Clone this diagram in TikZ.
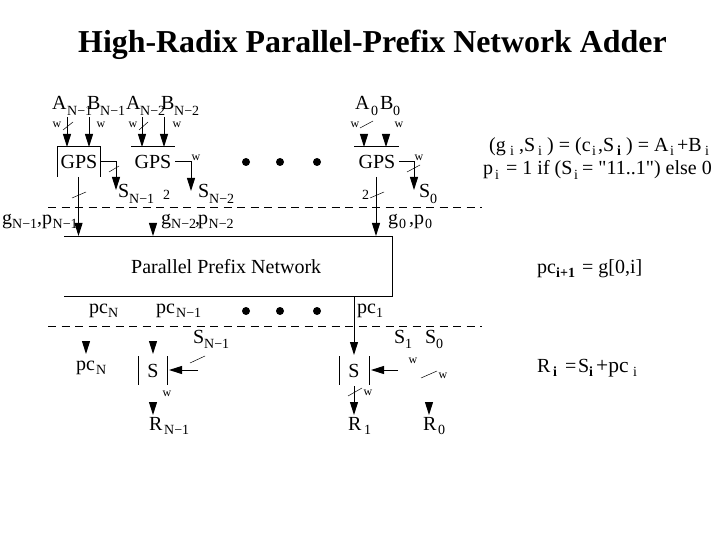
\documentclass[tikz,border=0pt]{standalone}
\usepackage{fontspec}
\setmainfont[Ligatures=TeXOff]{Liberation Serif}
\usetikzlibrary{arrows.meta}
\tikzset{
  lbl/.style={anchor=base west,inner sep=0pt,font=\fontsize{20}{20}\selectfont},
  subl/.style={anchor=base west,inner sep=0pt,font=\fontsize{14}{14}\selectfont},
  subb/.style={anchor=base west,inner sep=0pt,font=\fontsize{14}{14}\selectfont\bfseries},
  wlab/.style={anchor=center,inner sep=0pt,font=\fontsize{12}{12}\selectfont},
  boxl/.style={anchor=center,inner sep=0pt,font=\fontsize{20}{20}\selectfont},
  wire/.style={line width=1pt},
  arr/.style={line width=1pt,-{Triangle[length=13pt,width=8pt]}},
  tick/.style={line width=0.5pt},
  dash line/.style={line width=0.8pt,dash pattern=on 8pt off 5.5pt},
  bigdot/.style={circle,fill=black,inner sep=0pt,minimum size=8pt}
}
\newcommand{\wtick}[6]{%
  \coordinate (#1a) at (#2,#3);\coordinate (#1b) at (#4,#5);
  \draw[tick] (#1a) -- (#1b);}
\begin{document}
\begin{tikzpicture}[x=1pt,y=-1pt]
\useasboundingbox (0,0) rectangle (720,540);
% title
\node[anchor=base west,inner sep=0pt,font=\fontsize{31.9}{32}\selectfont\bfseries] (title) at (78,53) {High-Radix Parallel-Prefix Network Adder};
% dashed separators
\coordinate (d1a) at (48,207);\coordinate (d1b) at (482,207);
\coordinate (d2a) at (48,326);\coordinate (d2b) at (482,326);
\draw[dash line] (d1a) -- (d1b);
\draw[dash line] (d2a) -- (d2b);
% top inputs
\node[lbl] (an1) at (52,110) {A};\node[subl] (an1s) at (67,116) {N−1};
\node[lbl] (bn1) at (87,110) {B};\node[subl] (bn1s) at (100,116) {N−1};
\node[lbl] (an2) at (126,110) {A};\node[subl] (an2s) at (140,116) {N−2};
\node[lbl] (bn2) at (161,110) {B};\node[subl] (bn2s) at (174,116) {N−2};
\node[lbl] (a0) at (355,110) {A};\node[subl] (a0s) at (371,116) {0};
\node[lbl] (b0) at (380,110) {B};\node[subl] (b0s) at (393,116) {0};
% GPS blocks
\node[boxl] (gps1) at (79,162) {GPS};
\node[boxl] (gps2) at (153,162) {GPS};
\node[boxl] (gps3) at (377,162) {GPS};
\coordinate (g1bl) at (57,177);\coordinate (g1tl) at (57,147);\coordinate (g1tr) at (100,147);\coordinate (g1br) at (100,177);
\draw[wire] (g1bl) -- (g1tl) -- (g1tr) -- (g1br);
\coordinate (g2l) at (131,147);\coordinate (g2r) at (175,147);
\draw[wire] (g2l) -- (g2r);
\coordinate (g3l) at (354,147);\coordinate (g3r) at (399,147);
\draw[wire] (g3l) -- (g3r);
% input arrows
\coordinate (i1a) at (67,117);\coordinate (i1b) at (67,147);\draw[arr] (i1a) -- (i1b);
\coordinate (i2a) at (89,117);\coordinate (i2b) at (89,147);\draw[arr] (i2a) -- (i2b);
\coordinate (i3a) at (142,117);\coordinate (i3b) at (142,147);\draw[arr] (i3a) -- (i3b);
\coordinate (i4a) at (164,117);\coordinate (i4b) at (164,147);\draw[arr] (i4a) -- (i4b);
\coordinate (i5a) at (364,134);\coordinate (i5b) at (364,147);\draw[arr] (i5a) -- (i5b);
\coordinate (i6a) at (386,134);\coordinate (i6b) at (386,147);\draw[arr] (i6a) -- (i6b);
\wtick{t1}{63}{130}{73}{122}\wtick{t2}{82}{128}{96}{119}
\wtick{t3}{139}{130}{148}{122}\wtick{t4}{157}{128}{172}{119}
\wtick{t5}{360}{128}{373}{121}\wtick{t6}{380}{128}{394}{120}
\node[wlab] (w1) at (57,125) {w};\node[wlab] (w2) at (101,125) {w};
\node[wlab] (w3) at (133,125) {w};\node[wlab] (w4) at (177,125) {w};
\node[wlab] (w5) at (355,125) {w};\node[wlab] (w6) at (399,125) {w};
% sum outputs
\coordinate (o1a) at (100,162);\coordinate (o1c) at (116,162);\coordinate (o1b) at (116,190);
\draw[arr] (o1a) -- (o1c) -- (o1b);
\coordinate (o2a) at (175,162);\coordinate (o2c) at (191,162);\coordinate (o2b) at (191,191);
\draw[arr] (o2a) -- (o2c) -- (o2b);
\coordinate (o3a) at (399,162);\coordinate (o3c) at (414,162);\coordinate (o3b) at (414,190);
\draw[arr] (o3a) -- (o3c) -- (o3b);
\wtick{t7}{109}{172}{119}{166}\wtick{t8}{184}{172}{196}{165}\wtick{t9}{407}{172}{420}{165}
\node[wlab] (w7) at (121,158) {w};\node[wlab] (w8) at (196,158) {w};\node[wlab] (w9) at (419,158) {w};
\node[lbl] (sn1) at (118,197) {S};\node[subl] (sn1s) at (129,204) {N−1};
\node[lbl] (sn2) at (198,197) {S};\node[subl] (sn2s) at (209,204) {N−2};
\node[lbl] (s0) at (419,197) {S};\node[subl] (s0s) at (430,204) {0};
% carry lines
\coordinate (c1a) at (78.5,177);\coordinate (c1b) at (78.5,236);\draw[arr] (c1a) -- (c1b);
\coordinate (c2a) at (153,223);\coordinate (c2b) at (153,236);\draw[arr] (c2a) -- (c2b);
\coordinate (c3a) at (376,177);\coordinate (c3b) at (376,236);\draw[arr] (c3a) -- (c3b);
\wtick{t10}{72}{198}{86}{192}\wtick{t11}{148}{198}{162}{191}\wtick{t12}{370}{198}{384}{192}
\node[subl] (two1) at (64,200) {2};\node[subl] (two2) at (163,200) {2};\node[subl] (two3) at (362,200) {2};
\node[lbl] (gn1) at (2,225) {g};\node[subl] (gn1s) at (12,229) {N−1};\node[lbl] (cm1) at (37,225) {,};
\node[lbl] (pn1) at (42,225) {p};\node[subl] (pn1s) at (52.5,229) {N−1};
\node[lbl] (gn2) at (161,225) {g};\node[subl] (gn2s) at (171,229) {N−2};\node[lbl] (cm2) at (195,225) {,};
\node[lbl] (pn2) at (198,225) {p};\node[subl] (pn2s) at (208.5,229) {N−2};
\node[lbl] (g0) at (388,225) {g};\node[subl] (g0s) at (399,229) {0};\node[lbl] (cm3) at (409,225) {,};
\node[lbl] (p0) at (414,225) {p};\node[subl] (p0s) at (425,229) {0};
% network box
\coordinate (ntl) at (64,236);\coordinate (ntr) at (392,236);\coordinate (nbr) at (392,296);\coordinate (nbl) at (64,296);
\draw[wire] (ntl) -- (ntr) -- (nbr) -- (nbl);
\node[anchor=base west,inner sep=0pt,font=\fontsize{20}{20}\selectfont] (net) at (131,273) {Parallel Prefix Network};
% pc labels and dots
\node[lbl] (pcn) at (89,313) {pc};\node[subl] (pcns) at (108,317) {N};
\node[lbl] (pcn1) at (156,313) {pc};\node[subl] (pcn1s) at (176,317) {N−1};
\node[lbl] (pc1) at (357,313) {pc};\node[subl] (pc1s) at (376,317) {1};
\node[bigdot] (u1) at (246,162) {};\node[bigdot] (u2) at (280,162) {};\node[bigdot] (u3) at (317,162) {};
\node[bigdot] (l1) at (246,311) {};\node[bigdot] (l2) at (280,311) {};\node[bigdot] (l3) at (317,311) {};
% lower part
\coordinate (p1a) at (86,341);\coordinate (p1b) at (86,354);\draw[arr] (p1a) -- (p1b);
\coordinate (p2a) at (153,341);\coordinate (p2b) at (153,354);\draw[arr] (p2a) -- (p2b);
\coordinate (p3a) at (354,296);\coordinate (p3b) at (354,355);\draw[arr] (p3a) -- (p3b);
\node[lbl] (pcl) at (76,370) {pc};\node[subl] (pcls) at (96,374) {N};
\node[lbl] (sl1) at (193,343) {S};\node[subl] (sl1s) at (204,348) {N−1};
\node[lbl] (sl2) at (394,343) {S};\node[subl] (sl2s) at (405,348) {1};
\node[lbl] (sl3) at (425,343) {S};\node[subl] (sl3s) at (436,348) {0};
\node[boxl] (s1box) at (153,371) {S};
\node[boxl] (s2box) at (354,371) {S};
\coordinate (a1) at (138,356);\coordinate (a2) at (138,385);\draw[wire] (a1) -- (a2);
\coordinate (a3) at (167,356);\coordinate (a4) at (167,385);\draw[wire] (a3) -- (a4);
\coordinate (a5) at (339,356);\coordinate (a6) at (339,385);\draw[wire] (a5) -- (a6);
\coordinate (a7) at (369,356);\coordinate (a8) at (369,385);\draw[wire] (a7) -- (a8);
\coordinate (e1a) at (198,370);\coordinate (e1b) at (169,370);\draw[arr] (e1a) -- (e1b);
\coordinate (e2a) at (398,370);\coordinate (e2b) at (371,370);\draw[arr] (e2a) -- (e2b);
\coordinate (f1a) at (153,402);\coordinate (f1b) at (153,415);\draw[arr] (f1a) -- (f1b);
\coordinate (f2a) at (354,386);\coordinate (f2b) at (354,415);\draw[arr] (f2a) -- (f2b);
\coordinate (f3a) at (429,402);\coordinate (f3b) at (429,415);\draw[arr] (f3a) -- (f3b);
\wtick{t13}{190}{363}{205}{356}\wtick{t14}{391}{363}{406}{356}\wtick{t15}{421}{378}{437}{371}
\wtick{t16}{146}{397}{161}{389}\wtick{t17}{348}{396}{362}{388}
\node[wlab] (w10) at (211,361) {w};\node[wlab] (w11) at (413,361) {w};\node[wlab] (w12) at (443,376) {w};
\node[wlab] (w13) at (167,394) {w};\node[wlab] (w14) at (368,393) {w};
\node[lbl] (rn) at (149,430) {R};\node[subl] (rns) at (164,434) {N−1};
\node[lbl] (r1) at (348,430) {R};\node[subl] (r1s) at (364,434) {1};
\node[lbl] (r0) at (423,430) {R};\node[subl] (r0s) at (438,434) {0};
% equations
\node[lbl] (e1) at (489,152) {(g};\node[subl] (e1s) at (510,156) {i};
\node[lbl] (e2) at (519,152) {,S};\node[subl] (e2s) at (538,156) {i};
\node[lbl] (e3) at (547,152) {) = (c};\node[subl] (e3s) at (592,156) {i};
\node[lbl] (e4) at (598,152) {,S};\node[subb] (e4s) at (617,156) {i};
\node[lbl] (e5) at (626,152) {) = A};\node[subl] (e5s) at (670,156) {i};
\node[lbl] (e6) at (677,152) {+B};\node[subl] (e6s) at (705,156) {i};
\node[lbl] (q1) at (483,175) {p};\node[subl] (q1s) at (495,180) {i};
\node[lbl] (q2) at (506,175) {= 1 if (S};\node[subl] (q2s) at (574,180) {i};
\node[lbl] (q3) at (582,175) {= "11..1") else 0};
\node[lbl] (pe) at (537,273) {pc};\node[subb] (pes) at (556,277) {i+1};
\node[lbl] (pf) at (582,273) {= g[0,i]};
\node[lbl] (re) at (537,372) {R};\node[subb] (res) at (553,376) {i};
\node[lbl] (rf) at (565,372) {=};
\node[lbl] (rg) at (578,372) {S};\node[subb] (rgs) at (589,376) {i};
\node[lbl,font=\fontsize{21.5}{22}\selectfont] (rh) at (596,372) {+pc};\node[subl] (rhs) at (633,376) {i};
\end{tikzpicture}
\end{document}
